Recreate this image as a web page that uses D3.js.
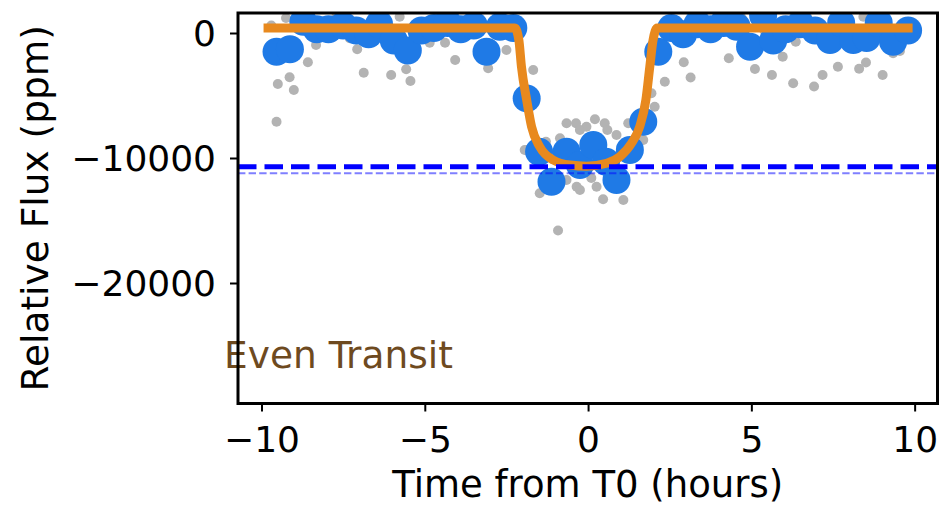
<!DOCTYPE html>
<html>
<head>
<meta charset="utf-8">
<script src="https://cdn.jsdelivr.net/npm/d3@7"></script>
<style>
  html, body { margin: 0; padding: 0; background: #ffffff; }
  svg { display: block; }
</style>
</head>
<body>
<div id="chart"></div>
<script>
// ---- data ----
const grayT = [-9.54, -9.50, -9.14, -9.01, -8.58, -8.33, -8.75, -7.30, -7.07, -6.87, -6.03, -5.57, -5.44, -5.77,
  -4.85, -4.38, -4.07, -3.06, -2.50, -1.68, -1.88, -1.94, -1.29,
  -0.86, -0.66, -0.37, -0.05, 0.21, 0.51, 0.59, 0.87, 1.23, -0.25, 1.69,
  -1.48, -0.66, -0.35, -0.25, 0.26, 0.46, 1.08, -0.92, 0.10,
  1.94, 2.04, 2.35, 2.93, 3.14, 3.68, 4.31, 5.11, 5.63, 5.96, 6.28, 6.36, 6.79, 6.92, 7.18, 7.65,
  8.30, 8.51, 9.02, 9.34, 9.55, 8.43,
  -9.70, -9.25, -7.70, -6.20, -4.60, -3.60, -2.90, 3.30, 4.70, 5.40, 6.70, 7.90, 9.10, 9.75];
const grayFlux = [-7100, -4080, -3540, -4560, -2340, -960, 300, -420, -1300, -3180, -3360, -2900, -3840, 1300,
  -780, -780, -2160, -2820, -1360, -2960, -9360, -9360, -8700,
  -8420, -7220, -7220, -7500, -6900, -7220, -7760, -8160, -7220, -7760, -8560,
  -12820, -11760, -12300, -12560, -12300, -13300, -13360, -15800, -11600,
  -4820, -5900, -3900, -2340, -3560, 100, -2020, -2880, -3360, -1900, -4020, -700, -160, -4280, -3360, -2700,
  -2860, -2360, -3360, -1620, -1440, 1300,
  600, 1200, 1400, 1000, 1300, 200, 900, 900, 1200, 200, 1300, 1100, 900, 500];

const blueT = [-9.54, -9.13, -8.72, -8.31, -7.95, -7.50, -7.10, -6.72, -6.40, -5.95, -5.52, -5.10, -4.72, -4.30,
  -3.90, -3.50, -3.11, -2.70, -2.29, -1.88, -1.50, -1.12, -0.66, -0.25, 0.16, 0.55, 0.87, 1.28, 1.69,
  2.15, 2.55, 2.91, 3.35, 3.75, 4.15, 4.55, 4.96, 5.36, 5.67, 6.05, 6.50, 6.95, 7.41, 7.75, 8.12, 8.53,
  8.90, 9.34, 9.80];
const blueFlux = [-1500, -1300, 900, 300, 300, 600, 200, -100, 700, -600, -1400, 200, 400, 800,
  300, 600, -1500, 500, 400, -5230, -9500, -11900, -9500, -10560, -8960, -10300, -11760, -9360, -7100,
  -1500, 400, -100, 700, 300, 800, 500, -1100, 1400, -600, 300, 700, 200, -560, 800, -560, -400,
  800, -700, 200];

const modelT = [-9.8, -2.24, -2.12, -2.04, -1.88, -1.73, -1.48, -1.07, -0.56, -0.05, 0.57, 0.97, 1.33,
  1.58, 1.77, 1.89, 1.99, 2.12, 9.8];
const modelFlux = [400, 400, -560, -2700, -5360, -7500, -9100, -10160, -10560, -10650, -10420, -9900, -8820,
  -7500, -5360, -2700, -560, 400, 400];

const depthLines = [-10700, -11220];
const xTicks = [-10, -5, 0, 5, 10];
const yTicks = [0, -10000, -20000];
const xDomain = [-10.72, 10.70];
const yDomain = [-29640, 1600];
const xLabel = "Time from T0 (hours)";
const yLabel = "Relative Flux (ppm)";
const panelLabel = "Even Transit";

// ---- drawing ----
const W = 939, H = 506;
const L = 238, R = 937.5, T = 13, B = 403.5;
const FONT = "'DejaVu Sans', 'Liberation Sans', sans-serif";

const svg = d3.select("#chart").append("svg")
  .attr("width", W).attr("height", H)
  .style("font-family", FONT);

const x = d3.scaleLinear().domain(xDomain).range([L, R]);
const y = d3.scaleLinear().domain(yDomain).range([B, T]);

svg.append("clipPath").attr("id", "clip")
  .append("rect").attr("x", L).attr("y", T).attr("width", R - L).attr("height", B - T);

// panel label (drawn under the spine, as in the reference)
svg.append("text")
  .attr("x", 224).attr("y", 368)
  .attr("fill", "#6e4a1f")
  .style("font-size", "37.5px")
  .text(panelLabel);

const plot = svg.append("g").attr("clip-path", "url(#clip)");

const grayData = grayT.map((t, i) => ({ t, f: grayFlux[i] }));
const blueData = blueT.map((t, i) => ({ t, f: blueFlux[i] }));
const modelData = modelT.map((t, i) => ({ t, f: modelFlux[i] }));

plot.selectAll("circle.gray").data(grayData).join("circle")
  .attr("class", "gray")
  .attr("cx", d => x(d.t)).attr("cy", d => y(d.f))
  .attr("r", 5).attr("fill", "#b3b3b3");

plot.selectAll("circle.blue").data(blueData).join("circle")
  .attr("class", "blue")
  .attr("cx", d => x(d.t)).attr("cy", d => y(d.f))
  .attr("r", 14).attr("fill", "#1f7ae6");

plot.append("path")
  .datum(modelData)
  .attr("fill", "none")
  .attr("stroke", "#e8891e")
  .attr("stroke-width", 9)
  .attr("stroke-linecap", "square")
  .attr("stroke-linejoin", "round")
  .attr("d", d3.line().x(d => x(d.t)).y(d => y(d.f)).curve(d3.curveMonotoneX));

// depth lines
plot.append("line")
  .attr("x1", L).attr("x2", R)
  .attr("y1", y(depthLines[0])).attr("y2", y(depthLines[0]))
  .attr("stroke", "#0000ff").attr("stroke-width", 5)
  .attr("stroke-dasharray", "18.5,8");
plot.append("line")
  .attr("x1", L).attr("x2", R)
  .attr("y1", y(depthLines[1])).attr("y2", y(depthLines[1]))
  .attr("stroke", "#0000ff").attr("stroke-opacity", 0.5).attr("stroke-width", 2)
  .attr("stroke-dasharray", "7.4,3.2");

// axes
const xAxis = svg.append("g").attr("transform", `translate(0,${B})`)
  .call(d3.axisBottom(x).tickValues(xTicks).tickSize(8).tickSizeOuter(0)
    .tickFormat(d => d3.format("d")(d).replace("-", "\u2212")));
xAxis.select(".domain").remove();
xAxis.selectAll(".tick line").attr("stroke", "#000").attr("stroke-width", 2);
xAxis.selectAll(".tick text").attr("y", 48.5).attr("dy", null)
  .attr("fill", "#000").style("font-size", "36px").style("font-family", FONT);

const yAxis = svg.append("g").attr("transform", `translate(${L},0)`)
  .call(d3.axisLeft(y).tickValues(yTicks).tickSize(8).tickSizeOuter(0)
    .tickFormat(d => d3.format("d")(d).replace("-", "\u2212")));
yAxis.select(".domain").remove();
yAxis.selectAll(".tick line").attr("stroke", "#000").attr("stroke-width", 2);
yAxis.selectAll(".tick text").attr("x", -22).attr("dy", "0.36em")
  .attr("fill", "#000").style("font-size", "36px").style("font-family", FONT);

// frame
svg.append("rect")
  .attr("x", L).attr("y", T).attr("width", R - L).attr("height", B - T)
  .attr("fill", "none").attr("stroke", "#000").attr("stroke-width", 3);

// axis labels
svg.append("text")
  .attr("x", (L + R) / 2).attr("y", 496.5)
  .attr("text-anchor", "middle").attr("fill", "#000")
  .style("font-size", "37px")
  .text(xLabel);

svg.append("text")
  .attr("transform", `translate(48,${(T + B) / 2}) rotate(-90)`)
  .attr("text-anchor", "middle").attr("fill", "#000")
  .style("font-size", "37.5px")
  .text(yLabel);
</script>
</body>
</html>
